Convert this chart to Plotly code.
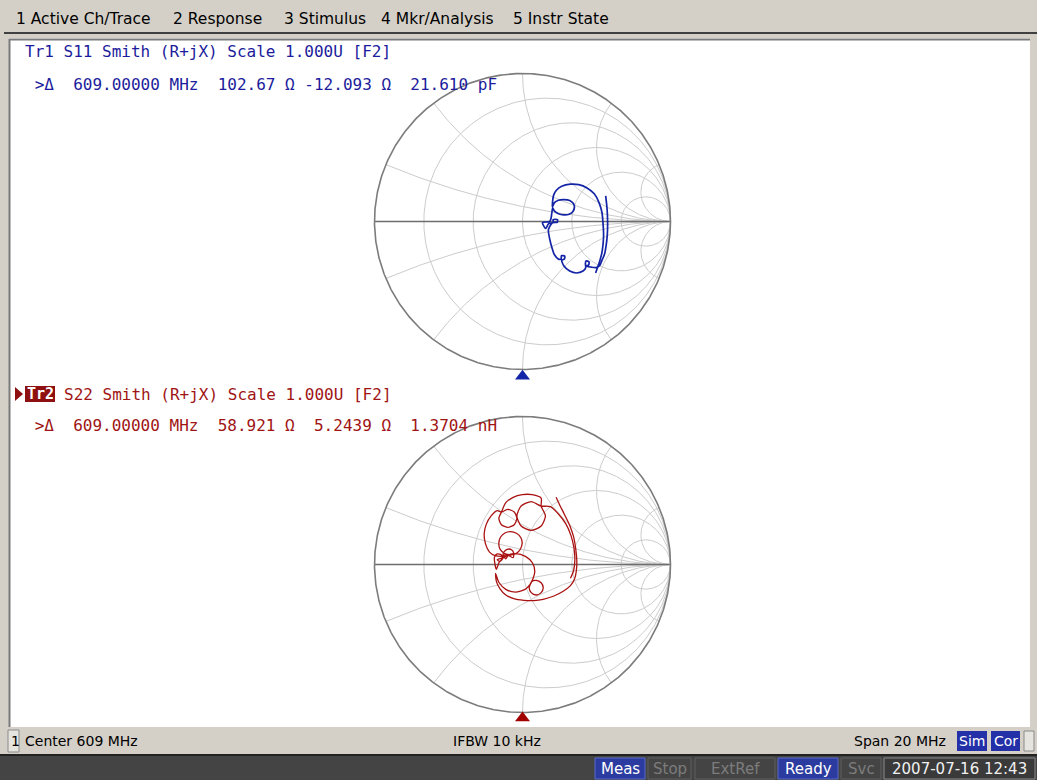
import numpy as np
import plotly.graph_objects as go

W, H = 1037, 780

# ---------------- data ----------------
menu_items = ["1 Active Ch/Trace", "2 Response", "3 Stimulus", "4 Mkr/Analysis", "5 Instr State"]

tr1_header = "Tr1 S11 Smith (R+jX) Scale 1.000U [F2]"
tr1_marker = " >Δ  609.00000 MHz  102.67 Ω -12.093 Ω  21.610 pF"
tr2_tag = "Tr2"
tr2_header = "S22 Smith (R+jX) Scale 1.000U [F2]"
tr2_marker = " >Δ  609.00000 MHz  58.921 Ω  5.2439 Ω  1.3704 nH"

status_left = "Center 609 MHz"
status_mid = "IFBW 10 kHz"
status_right = "Span 20 MHz"
status_flags = ["Sim", "Cor"]
bottom_flags = ["Meas", "Stop", "ExtRef", "Ready", "Svc"]
bottom_flag_active = [True, False, False, True, False]
timestamp = "2007-07-16 12:43"

# Smith chart grid values (normalised impedance)
grid_r = [0.2, 0.5, 1.0, 2.0, 5.0]
grid_x = [0.2, 0.5, 1.0, 2.0, 5.0]

s11_re = [0.494, 0.508, 0.521, 0.535, 0.544, 0.548, 0.544, 0.537, 0.517, 0.485, 0.436, 0.380, 0.324, 0.265,
          0.229, 0.211, 0.204, 0.202, 0.216, 0.243, 0.279, 0.319, 0.344, 0.351, 0.342, 0.315, 0.279, 0.243,
          0.216, 0.204, 0.198, 0.193, 0.184, 0.135, 0.157, 0.175, 0.207, 0.207, 0.236, 0.236, 0.202, 0.175,
          0.184, 0.200, 0.216, 0.243, 0.261, 0.263, 0.285, 0.283, 0.265, 0.279, 0.319, 0.364, 0.409, 0.427,
          0.425, 0.429, 0.449, 0.447, 0.431, 0.463, 0.494, 0.521, 0.539, 0.553, 0.564, 0.573, 0.575, 0.571,
          0.562]
s11_im = [-0.348, -0.308, -0.270, -0.218, -0.157, -0.090, -0.011, 0.061, 0.128, 0.187, 0.227, 0.249, 0.252,
          0.238, 0.211, 0.180, 0.142, 0.097, 0.128, 0.144, 0.148, 0.142, 0.121, 0.097, 0.070, 0.049, 0.045,
          0.052, 0.070, 0.092, 0.056, 0.022, 0.000, -0.007, -0.047, -0.016, -0.007, 0.013, 0.013, -0.004,
          -0.009, -0.056, -0.119, -0.180, -0.225, -0.254, -0.252, -0.231, -0.234, -0.254, -0.261, -0.299,
          -0.335, -0.348, -0.335, -0.312, -0.285, -0.267, -0.272, -0.294, -0.301, -0.308, -0.312, -0.299,
          -0.258, -0.225, -0.169, -0.090, 0.000, 0.090, 0.173]

s22_re = [0.227, 0.248, 0.282, 0.318, 0.345, 0.360, 0.367, 0.363, 0.351,
          0.324, 0.275, 0.212, 0.140, 0.077, 0.009, -0.059, -0.115, -0.153, -0.176, -0.182,
          -0.160, -0.113, -0.047, 0.018, 0.050,
          0.063, 0.092, 0.126, 0.140, 0.126, 0.092, 0.059, 0.045, 0.054,
          0.072, 0.083, 0.068, 0.020, -0.047, -0.113, -0.158, -0.176,
          -0.189, -0.189, -0.171, -0.144, -0.135, -0.153, -0.171,
          -0.137, -0.128, -0.104, -0.074, -0.059, -0.063,
          -0.097, -0.126, -0.113, -0.097,
          -0.081, -0.119, -0.151, -0.160, -0.149, -0.119, -0.081, -0.041, -0.011, -0.002, -0.014, -0.041, -0.081,
          -0.131, -0.185,
          -0.223, -0.250, -0.259, -0.245, -0.212, -0.171,
          -0.142, -0.099, -0.056, -0.038, -0.056, -0.099, -0.142, -0.160, -0.142,
          -0.113, -0.063, -0.002, 0.065, 0.126,
          0.126, 0.155, 0.126, 0.059, -0.009, -0.038, -0.009, 0.059, 0.126,
          0.189, 0.243, 0.293, 0.327, 0.347, 0.354, 0.345, 0.324]
s22_im = [0.454, 0.409, 0.341, 0.267, 0.188, 0.102, 0.026, -0.048, -0.100,
          -0.143, -0.181, -0.213, -0.235, -0.244, -0.242, -0.231, -0.204, -0.163, -0.116, -0.060,
          -0.120, -0.168, -0.186, -0.168, -0.136,
          -0.114, -0.107, -0.123, -0.157, -0.190, -0.206, -0.190, -0.157, -0.132,
          -0.093, -0.048, 0.010, 0.055, 0.073, 0.057, 0.015, -0.033,
          0.021, 0.051, 0.071, 0.066, 0.039, 0.021, 0.033,
          0.046, 0.080, 0.102, 0.100, 0.075, 0.046,
          0.062, 0.062, 0.039, 0.062,
          0.064, 0.073, 0.102, 0.143, 0.184, 0.213, 0.222, 0.211, 0.181, 0.143, 0.105, 0.075, 0.064,
          0.055, 0.060,
          0.084, 0.139, 0.206, 0.271, 0.328, 0.364,
          0.355, 0.373, 0.355, 0.312, 0.269, 0.251, 0.269, 0.312, 0.355,
          0.418, 0.454, 0.472, 0.472, 0.449,
          0.395, 0.328, 0.260, 0.231, 0.260, 0.328, 0.395, 0.425, 0.395,
          0.391, 0.341, 0.274, 0.197, 0.116, 0.035, -0.042, -0.093]

stimulus_marker_re = [0.0]

# ---------------- styling / layout ----------------
BLUE_TXT = "#1c1c9c"
BLUE_LN = "#1424a6"
RED_TXT = "#a01414"
RED_LN = "#aa1212"
GRID = "#cccccc"
MONO = "DejaVu Sans Mono"
UI = "DejaVu Sans"

def px_x(x):
    return x / W

def px_y(y):
    return 1 - y / H

shapes = []
annotations = []

def rect(x0, y0, x1, y1, fill, line=None, lw=0):
    shapes.append(dict(type="rect", xref="paper", yref="paper",
                       x0=px_x(x0), x1=px_x(x1), y0=px_y(y1), y1=px_y(y0),
                       fillcolor=fill, line=dict(color=line or fill, width=lw), layer="below"))

def seg(x0, y0, x1, y1, color, w):
    shapes.append(dict(type="line", xref="paper", yref="paper",
                       x0=px_x(x0), x1=px_x(x1), y0=px_y(y0), y1=px_y(y1),
                       line=dict(color=color, width=w), layer="below"))

def text(x, y, s, size, color, family, anchor="left"):
    annotations.append(dict(xref="paper", yref="paper", x=px_x(x), y=px_y(y),
                            text=s.replace(" ", "\u00a0"), showarrow=False,
                            xanchor=anchor, yanchor="middle", borderpad=0,
                            font=dict(size=size, color=color, family=family)))

# window chrome
rect(0, 0, W, 38, "#d4d0c8")
seg(4, 33, W, 33, "#404040", 2)
rect(0, 38, 9, 728, "#d4d0c8")
rect(1030, 38, W, 728, "#d4d0c8")
rect(9, 39, 1030, 727, "#ffffff")
seg(9, 39.5, 1030, 39.5, "#7a7a7a", 2)
seg(9.5, 39, 9.5, 727, "#7a7a7a", 2)

menu_px = [15, 172, 283, 380, 512]
for s, x in zip(menu_items, menu_px):
    text(x, 19, s, 15.5, "#000000", UI)

# status bar
rect(0, 727, W, 754, "#d4d0c8")
rect(8, 730, 19, 752, "#e6e4de", "#8a8a8a", 1)
text(10, 741, "1", 14, "#000000", UI)
text(24, 741, status_left, 14, "#000000", UI)
text(452, 741, status_mid, 14, "#000000", UI)
text(947, 741, status_right, 14, "#000000", UI, anchor="right")
flag_px = [(957, 987), (991, 1020)]
for s, (a, b) in zip(status_flags, flag_px):
    rect(a, 731, b, 751, "#2330a8")
    text((a + b) / 2, 741, s, 14, "#ffffff", UI, anchor="center")
rect(1024, 731, 1034, 751, "#e6e4de", "#8a8a8a", 1)

# bottom bar
rect(0, 754, W, 780, "#444444")
seg(0, 755, W, 755, "#222222", 2)
bflag_px = [(595, 645), (648, 691), (695, 775), (778, 838), (841, 881)]
for s, act, (a, b) in zip(bottom_flags, bottom_flag_active, bflag_px):
    if act:
        rect(a, 758, b, 779, "#2b3ba0", "#5a6ac8", 1)
        text((a + b) / 2, 769, s, 15, "#ffffff", UI, anchor="center")
    else:
        rect(a, 758, b, 779, "#444444", "#5e5e5e", 1)
        text((a + b) / 2, 769, s, 15, "#7c7c7c", UI, anchor="center")
rect(884, 758, 1035, 779, "#3a3a3a", "#8a8a8a", 1)
text(959.5, 769, timestamp, 15, "#f0f0f0", UI, anchor="center")

# trace headers
text(24, 52, tr1_header, 16, BLUE_TXT, MONO)
text(24, 84, tr1_marker, 16, BLUE_TXT, MONO)
shapes.append(dict(type="path", xref="paper", yref="paper",
                   path=f"M {px_x(15)} {px_y(387)} L {px_x(23)} {px_y(394)} L {px_x(15)} {px_y(401)} Z",
                   fillcolor="#8e1010", line=dict(width=0)))
rect(25, 386, 55, 402, "#8e1010")
annotations.append(dict(xref="paper", yref="paper", x=px_x(26), y=px_y(394),
                        text="<b>" + tr2_tag + "</b>", showarrow=False, xanchor="left", yanchor="middle",
                        borderpad=0, font=dict(size=15, color="#ffffff", family=MONO)))
text(63, 394, tr2_header, 16, RED_TXT, MONO)
text(24, 426, tr2_marker, 16, RED_TXT, MONO)

# ---------------- Smith chart geometry ----------------
S = 148.0
charts = [
    dict(cx=522.5, cy=221.5, box=(363, 62, 682, 384), re=s11_re, im=s11_im, ln=BLUE_LN, mk=BLUE_LN, mky=-1.045, w=1.7),
    dict(cx=522.5, cy=564.5, box=(363, 404, 682, 727), re=s22_re, im=s22_im, ln=RED_LN, mk="#a00000", mky=-1.037, w=1.3),
]

def grid_lines():
    gx, gy = [], []
    t = np.linspace(0, 2 * np.pi, 361)
    for r in grid_r:
        c, rad = r / (1 + r), 1 / (1 + r)
        gx += list(c + rad * np.cos(t)) + [None]
        gy += list(rad * np.sin(t)) + [None]
    rr = np.concatenate([np.linspace(0, 1, 80), np.geomspace(1, 5000, 200)])
    for xv in grid_x:
        for sgn in (1, -1):
            z = rr + 1j * sgn * xv
            g = (z - 1) / (z + 1)
            gx += list(g.real) + [None]
            gy += list(g.imag) + [None]
    return gx, gy

gx, gy = grid_lines()
t = np.linspace(0, 2 * np.pi, 721)

fig = go.Figure()
for i, ch in enumerate(charts):
    xa = "x" if i == 0 else "x2"
    ya = "y" if i == 0 else "y2"
    fig.add_trace(go.Scatter(x=gx, y=gy, mode="lines", line=dict(color=GRID, width=1),
                             xaxis=xa, yaxis=ya, hoverinfo="skip", showlegend=False))
    fig.add_trace(go.Scatter(x=[-1, 1], y=[0, 0], mode="lines", line=dict(color="#6e6e6e", width=1.6),
                             xaxis=xa, yaxis=ya, hoverinfo="skip", showlegend=False))
    fig.add_trace(go.Scatter(x=np.cos(t), y=np.sin(t), mode="lines", line=dict(color="#7c7c7c", width=1.6),
                             xaxis=xa, yaxis=ya, hoverinfo="skip", showlegend=False))
    fig.add_trace(go.Scatter(x=ch["re"], y=ch["im"], mode="lines",
                             line=dict(color=ch["ln"], width=ch["w"], shape="spline", smoothing=0.7),
                             xaxis=xa, yaxis=ya, showlegend=False))
    fig.add_trace(go.Scatter(x=stimulus_marker_re, y=[ch["mky"]], mode="markers",
                             marker=dict(symbol="triangle-up", size=13, color=ch["mk"], line=dict(width=0)),
                             xaxis=xa, yaxis=ya, hoverinfo="skip", showlegend=False))

layout_axes = {}
for i, ch in enumerate(charts):
    x0, y0, x1, y1 = ch["box"]
    xr = [(x0 - ch["cx"]) / S, (x1 - ch["cx"]) / S]
    yr = [(ch["cy"] - y1) / S, (ch["cy"] - y0) / S]
    sx = "xaxis" if i == 0 else "xaxis2"
    sy = "yaxis" if i == 0 else "yaxis2"
    layout_axes[sx] = dict(domain=[px_x(x0), px_x(x1)], range=xr, visible=False, fixedrange=True,
                           anchor="y" if i == 0 else "y2")
    layout_axes[sy] = dict(domain=[px_y(y1), px_y(y0)], range=yr, visible=False, fixedrange=True,
                           anchor="x" if i == 0 else "x2")

fig.update_layout(width=W, height=H, margin=dict(l=0, r=0, t=0, b=0),
                  paper_bgcolor="#ffffff", plot_bgcolor="rgba(0,0,0,0)",
                  shapes=shapes, annotations=annotations, showlegend=False, **layout_axes)

fig.write_html("out.html", config={"displayModeBar": False},
               post_script="document.body.style.margin='0';document.body.style.overflow='hidden';")
